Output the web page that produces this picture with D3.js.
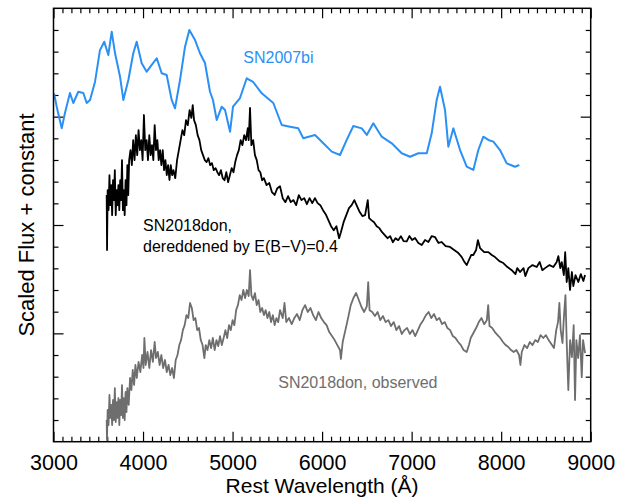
<!DOCTYPE html>
<html><head><meta charset="utf-8">
<script src="https://cdn.jsdelivr.net/npm/d3@7"></script>
<style>body{margin:0;background:#fff}svg{display:block}text{font-family:"Liberation Sans",Arial,Helvetica,sans-serif}</style>
</head><body>
<svg id="c" width="631" height="497"></svg>
<script>
// ---- data (wavelength in Å, scaled flux + constant) ----
const sn2007bi = [[3006,3.215],[3036,3.092],[3092,2.892],[3128,3.034],[3184,3.218],[3221,3.126],[3277,3.230],[3333,3.218],[3371,3.126],[3408,3.154],[3464,3.323],[3519,3.614],[3567,3.692],[3612,3.569],[3650,3.784],[3687,3.587],[3743,3.369],[3780,3.154],[3836,3.338],[3891,3.585],[3929,3.692],[3985,3.492],[4041,3.415],[4097,3.477],[4153,3.539],[4209,3.400],[4264,3.384],[4320,3.154],[4357,3.077],[4413,3.338],[4469,3.646],[4517,3.800],[4581,3.707],[4636,3.585],[4692,3.495],[4748,3.230],[4781,3.154],[4823,2.969],[4879,3.092],[4916,3.061],[4972,2.861],[5005,3.092],[5083,3.172],[5158,3.354],[5228,3.322],[5326,3.215],[5455,3.126],[5549,2.923],[5642,2.907],[5734,2.892],[5790,2.800],[5921,2.831],[6014,2.754],[6108,2.677],[6200,2.646],[6275,2.785],[6349,2.914],[6443,2.892],[6499,2.831],[6572,2.939],[6666,2.815],[6778,2.754],[6889,2.662],[6982,2.630],[7075,2.662],[7169,2.662],[7224,2.846],[7280,3.154],[7317,3.276],[7373,3.061],[7410,2.723],[7466,2.892],[7541,2.692],[7615,2.538],[7689,2.508],[7745,2.692],[7801,2.815],[7857,2.785],[7913,2.769],[7987,2.692],[8062,2.569],[8155,2.538],[8203,2.554]];

const sn2018donDered = [[3594,2.277],[3598,1.769],[3605,2.322],[3615,2.137],[3625,2.460],[3635,2.183],[3645,2.368],[3655,2.091],[3665,2.415],[3675,2.230],[3685,2.506],[3695,2.091],[3705,2.322],[3715,2.183],[3725,2.368],[3735,2.137],[3745,2.415],[3755,2.230],[3765,2.599],[3775,2.137],[3785,2.322],[3795,2.091],[3805,2.415],[3815,2.183],[3825,2.552],[3835,2.277],[3845,2.599],[3860,2.691],[3875,2.552],[3890,2.783],[3905,2.599],[3920,2.829],[3935,2.645],[3950,2.876],[3965,2.691],[3980,2.783],[3995,2.599],[4010,3.015],[4025,2.691],[4040,2.783],[4055,2.599],[4070,2.829],[4085,2.645],[4100,2.737],[4115,2.599],[4130,2.922],[4145,2.691],[4160,2.783],[4175,2.599],[4190,2.691],[4205,2.552],[4220,2.691],[4235,2.506],[4250,2.599],[4265,2.460],[4280,2.552],[4295,2.415],[4310,2.552],[4325,2.460],[4340,2.506],[4360,2.432],[4380,2.599],[4400,2.691],[4420,2.783],[4440,2.876],[4460,2.829],[4480,2.968],[4500,2.922],[4520,3.061],[4540,2.988],[4555,3.107],[4570,2.968],[4590,2.922],[4610,2.829],[4630,2.783],[4650,2.691],[4670,2.645],[4690,2.599],[4710,2.581],[4730,2.617],[4750,2.552],[4770,2.571],[4790,2.506],[4810,2.524],[4830,2.487],[4850,2.460],[4870,2.506],[4890,2.432],[4910,2.413],[4930,2.487],[4950,2.395],[4970,2.460],[4990,2.524],[5010,2.487],[5030,2.581],[5050,2.645],[5070,2.691],[5090,2.783],[5110,2.737],[5130,2.829],[5150,2.783],[5170,2.894],[5180,2.783],[5195,3.080],[5210,2.737],[5230,2.783],[5250,2.645],[5270,2.599],[5290,2.506],[5310,2.487],[5330,2.413],[5350,2.432],[5380,2.368],[5410,2.387],[5440,2.303],[5470,2.277],[5500,2.340],[5530,2.358],[5560,2.248],[5590,2.211],[5620,2.266],[5650,2.211],[5680,2.230],[5710,2.183],[5740,2.276],[5770,2.230],[5800,2.248],[5830,2.192],[5860,2.248],[5890,2.202],[5920,2.248],[5950,2.202],[5980,2.183],[6010,2.137],[6040,2.100],[6070,2.045],[6100,1.989],[6130,1.952],[6160,1.989],[6190,1.878],[6210,1.934],[6240,2.026],[6270,2.091],[6300,2.156],[6330,2.183],[6360,2.230],[6390,2.174],[6420,2.119],[6450,2.082],[6480,2.091],[6510,2.230],[6525,2.063],[6550,2.045],[6580,2.026],[6610,1.989],[6640,1.971],[6670,1.934],[6700,1.906],[6730,1.878],[6760,1.897],[6790,1.841],[6820,1.878],[6850,1.860],[6880,1.897],[6910,1.851],[6945,1.848],[6975,1.898],[7005,1.861],[7038,1.880],[7075,1.834],[7113,1.815],[7150,1.861],[7187,1.843],[7225,1.898],[7261,1.889],[7300,1.834],[7336,1.843],[7380,1.806],[7429,1.797],[7475,1.769],[7522,1.741],[7560,1.704],[7590,1.658],[7615,1.630],[7640,1.677],[7665,1.723],[7689,1.723],[7720,1.769],[7740,1.861],[7764,1.787],[7810,1.750],[7857,1.750],[7895,1.723],[7931,1.704],[7980,1.667],[8024,1.649],[8070,1.612],[8118,1.583],[8160,1.547],[8180,1.602],[8211,1.566],[8250,1.602],[8270,1.528],[8304,1.602],[8350,1.630],[8397,1.612],[8430,1.658],[8460,1.583],[8490,1.602],[8540,1.630],[8583,1.612],[8620,1.658],[8639,1.713],[8660,1.602],[8677,1.658],[8700,1.538],[8715,1.750],[8732,1.474],[8750,1.602],[8769,1.400],[8790,1.566],[8806,1.436],[8830,1.538],[8862,1.474],[8890,1.547],[8918,1.483],[8937,1.538]];

const sn2018donObs = [[3594,0.200],[3597,0.016],[3605,0.293],[3615,0.154],[3625,0.431],[3635,0.219],[3645,0.339],[3655,0.154],[3665,0.385],[3675,0.200],[3685,0.495],[3695,0.182],[3705,0.366],[3715,0.219],[3725,0.403],[3735,0.154],[3745,0.385],[3755,0.246],[3765,0.523],[3775,0.219],[3785,0.403],[3795,0.200],[3805,0.459],[3815,0.274],[3825,0.495],[3840,0.339],[3855,0.588],[3870,0.477],[3885,0.662],[3900,0.523],[3915,0.708],[3930,0.588],[3950,0.736],[3970,0.643],[3990,0.800],[4005,0.680],[4015,0.957],[4030,0.708],[4050,0.828],[4070,0.680],[4090,0.846],[4110,0.736],[4130,0.920],[4145,0.772],[4165,0.828],[4185,0.708],[4205,0.800],[4225,0.680],[4245,0.754],[4265,0.643],[4285,0.708],[4305,0.615],[4325,0.680],[4345,0.588],[4365,0.754],[4385,0.800],[4405,0.892],[4425,0.938],[4445,1.030],[4465,1.076],[4485,1.168],[4505,1.141],[4525,1.280],[4545,1.234],[4565,1.122],[4585,1.141],[4605,1.030],[4625,1.049],[4645,0.938],[4665,0.892],[4685,0.772],[4700,0.892],[4720,0.846],[4740,0.938],[4760,0.864],[4780,0.957],[4800,0.846],[4820,0.938],[4840,0.883],[4860,0.975],[4880,0.892],[4900,0.957],[4920,1.030],[4940,0.957],[4960,1.076],[4980,1.030],[5000,1.122],[5020,1.076],[5040,1.214],[5060,1.261],[5080,1.353],[5100,1.308],[5120,1.400],[5140,1.326],[5160,1.400],[5180,1.344],[5195,1.584],[5210,1.353],[5230,1.308],[5250,1.372],[5270,1.261],[5290,1.308],[5310,1.197],[5330,1.234],[5350,1.168],[5370,1.214],[5390,1.141],[5410,1.197],[5430,1.104],[5450,1.168],[5470,1.076],[5490,1.141],[5510,1.104],[5530,1.214],[5560,1.141],[5580,1.280],[5600,1.104],[5630,1.141],[5660,1.085],[5690,1.141],[5720,1.178],[5750,1.122],[5780,1.214],[5810,1.261],[5840,1.197],[5870,1.234],[5900,1.168],[5930,1.122],[5960,1.197],[5990,1.141],[6020,1.104],[6050,1.076],[6080,1.012],[6110,0.975],[6140,0.938],[6170,0.892],[6200,0.846],[6210,0.763],[6230,0.920],[6260,1.030],[6290,1.141],[6320,1.261],[6350,1.326],[6380,1.372],[6410,1.308],[6440,1.243],[6470,1.197],[6500,1.252],[6515,1.473],[6530,1.214],[6560,1.197],[6590,1.160],[6620,1.197],[6650,1.122],[6680,1.160],[6710,1.104],[6740,1.122],[6770,1.067],[6800,1.104],[6830,1.030],[6860,1.067],[6890,0.994],[6920,1.030],[6950,1.049],[6980,0.994],[7010,1.030],[7040,0.975],[7070,1.030],[7100,1.085],[7130,1.122],[7160,1.168],[7190,1.197],[7220,1.141],[7250,1.178],[7280,1.122],[7310,1.141],[7340,1.085],[7370,1.104],[7400,1.049],[7430,1.030],[7460,0.975],[7490,0.957],[7520,0.920],[7550,0.892],[7580,0.846],[7615,0.828],[7640,0.892],[7660,0.957],[7690,1.003],[7720,1.049],[7750,1.104],[7780,1.141],[7810,1.085],[7840,1.122],[7855,1.261],[7870,1.067],[7900,1.049],[7930,1.012],[7960,0.984],[7990,0.957],[8020,0.920],[8050,0.892],[8080,0.874],[8110,0.846],[8140,0.828],[8170,0.846],[8200,0.800],[8215,0.708],[8230,0.828],[8260,0.892],[8290,0.864],[8320,0.920],[8350,0.892],[8380,0.938],[8410,0.920],[8440,0.984],[8470,0.957],[8500,0.984],[8530,0.938],[8560,0.901],[8590,0.864],[8615,1.030],[8635,1.104],[8650,1.280],[8665,1.030],[8685,0.911],[8700,1.141],[8718,1.353],[8733,0.892],[8750,0.477],[8770,0.938],[8790,0.781],[8810,1.076],[8825,0.385],[8840,0.938],[8860,0.772],[8880,0.984],[8900,0.596],[8915,0.938],[8937,0.817]];

const xTickValues = [3000,4000,5000,6000,7000,8000,9000];
const xTickLabels = ["3000","4000","5000","6000","7000","8000","9000"];
const yMajorTicks = [1,2,3];
const labels = {
  blue: "SN2007bi",
  dered1: "SN2018don,",
  dered2: "dereddened by E(B\u2212V)=0.4",
  obs: "SN2018don, observed",
  xTitle: "Rest Wavelength (\u00C5)",
  yTitle: "Scaled Flux + constant"
};

// ---- drawing ----
const svg = d3.select("#c");
const L = 53.5, R = 590.7, T = 8.3, B = 441.7;
const x = d3.scaleLinear().domain([3000,9000]).range([L,R]);
const y = d3.scaleLinear().domain([0,4]).range([B,T]);

const minorX = d3.range(3000, 9001, 100).filter(v => v % 1000 !== 0);
const minorY = d3.range(0, 4.001, 0.2).map(v => +v.toFixed(1)).filter(v => Math.abs(v - Math.round(v)) > 1e-6);

function styleAxis(g){
  g.select(".domain").remove();
  g.selectAll(".tick line").attr("stroke","#000").attr("stroke-width",1.2);
}
// bottom
svg.append("g").attr("transform",`translate(0,${B})`)
  .call(d3.axisBottom(x).tickValues(minorX).tickSize(-5).tickFormat(""))
  .call(styleAxis);
svg.append("g").attr("transform",`translate(0,${B})`)
  .call(d3.axisBottom(x).tickValues(xTickValues).tickSize(-10).tickFormat((d,i)=>xTickLabels[i]))
  .call(styleAxis)
  .call(g=>g.selectAll("text").attr("font-size",21.5).attr("fill","#000").attr("y",28).attr("dy",null));
// top
svg.append("g").attr("transform",`translate(0,${T})`)
  .call(d3.axisTop(x).tickValues(minorX).tickSize(-5).tickFormat("")).call(styleAxis);
svg.append("g").attr("transform",`translate(0,${T})`)
  .call(d3.axisTop(x).tickValues(xTickValues).tickSize(-10).tickFormat("")).call(styleAxis);
// left
svg.append("g").attr("transform",`translate(${L},0)`)
  .call(d3.axisLeft(y).tickValues(minorY).tickSize(-5).tickFormat("")).call(styleAxis);
svg.append("g").attr("transform",`translate(${L},0)`)
  .call(d3.axisLeft(y).tickValues(yMajorTicks).tickSize(-10).tickFormat("")).call(styleAxis);
// right
svg.append("g").attr("transform",`translate(${R},0)`)
  .call(d3.axisRight(y).tickValues(minorY).tickSize(-5).tickFormat("")).call(styleAxis);
svg.append("g").attr("transform",`translate(${R},0)`)
  .call(d3.axisRight(y).tickValues(yMajorTicks).tickSize(-10).tickFormat("")).call(styleAxis);

// spectra
svg.append("clipPath").attr("id","pc").append("rect")
  .attr("x",L).attr("y",T).attr("width",R-L).attr("height",B-T);
const series = [
  {data: sn2007bi, color:"#2b90f5", width:2},
  {data: sn2018donDered, color:"#000000", width:1.8},
  {data: sn2018donObs, color:"#6e6e6e", width:1.8}
];
const line = d3.line().x(d=>x(d[0])).y(d=>y(d[1]));
svg.append("g").attr("clip-path","url(#pc)").selectAll("path").data(series).join("path")
  .attr("d", s=>line(s.data))
  .attr("fill","none").attr("stroke",s=>s.color)
  .attr("stroke-width",s=>s.width).attr("stroke-linejoin","round");

// frame
svg.append("rect").attr("x",L).attr("y",T).attr("width",R-L).attr("height",B-T)
  .attr("fill","none").attr("stroke","#000").attr("stroke-width",1.5);

// annotations
svg.append("text").attr("x",x(5120)).attr("y",62.5).attr("font-size",16).attr("fill","#2b90f5").text(labels.blue);
svg.append("text").attr("x",x(4000)).attr("y",230.5).attr("font-size",16).attr("fill","#000").text(labels.dered1);
svg.append("text").attr("x",x(4000)).attr("y",251.5).attr("font-size",16).attr("fill","#000").text(labels.dered2);
svg.append("text").attr("x",x(5510)).attr("y",388).attr("font-size",16).attr("fill","#6e6e6e").text(labels.obs);

// titles
svg.append("text").attr("x",(L+R)/2).attr("y",492.5).attr("text-anchor","middle").attr("font-size",21).attr("fill","#000").text(labels.xTitle);
svg.append("text").attr("transform",`translate(34,${(T+B)/2}) rotate(-90)`).attr("text-anchor","middle").attr("font-size",22).attr("fill","#000").text(labels.yTitle);
</script>
</body></html>
